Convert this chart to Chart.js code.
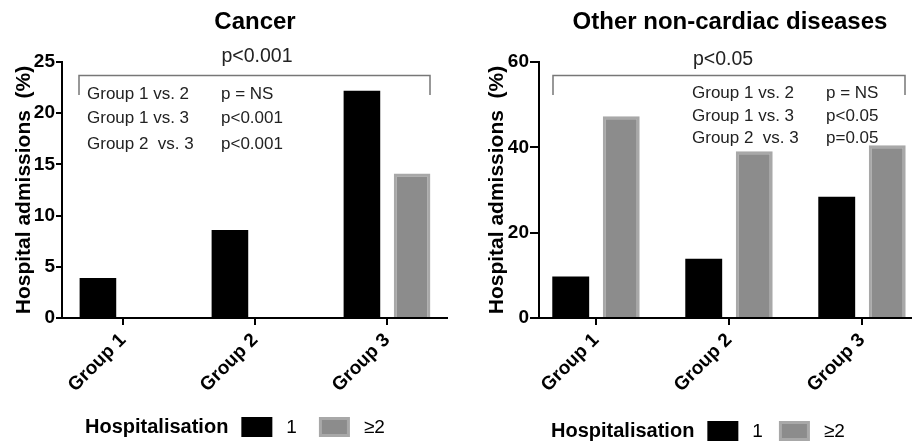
<!DOCTYPE html>
<html>
<head>
<meta charset="utf-8">
<script src="https://cdn.jsdelivr.net/npm/chart.js@4.4.1/dist/chart.umd.min.js"></script>
<style>
  body { margin: 0; width: 912px; height: 443px; overflow: hidden; background: #fff; position: relative; }
  canvas { position: absolute; top: 0; }
  #cancerChart { left: 0; }
  #otherChart { left: 456px; }
</style>
</head>
<body>
<canvas id="cancerChart" width="456" height="443"></canvas>
<canvas id="otherChart" width="470" height="443"></canvas>
<script>
const groups = ["Group 1", "Group 2", "Group 3"]
const seriesNames = ["1", "≥2"]

// Cancer (%)
const cancerOnce = [3.9, 8.6, 22.2]
const cancerRepeat = [0, 0, 14.1]
const cancerTicks = [0, 5, 10, 15, 20, 25]
const cancerComparisons = [
  ["Group 1 vs. 2", "p = NS"],
  ["Group 1 vs. 3", "p<0.001"],
  ["Group 2  vs. 3", "p<0.001"],
]

// Other non-cardiac diseases (%)
const otherOnce = [9.7, 13.9, 28.4]
const otherRepeat = [47.3, 39.1, 40.5]
const otherTicks = [0, 20, 40, 60]
const otherComparisons = [
  ["Group 1 vs. 2", "p = NS"],
  ["Group 1 vs. 3", "p<0.05"],
  ["Group 2  vs. 3", "p=0.05"],
]

const FONT = "'Liberation Sans', Arial, sans-serif"
Chart.defaults.font.family = FONT
Chart.defaults.color = "#000"

// Titles, bracket, pairwise p values and legend
const notesPlugin = {
  id: "notes",
  // the category band starts a little left of the y axis line in the original
  afterLayout(chart, args, o) {
    const x = chart.scales.x
    x._startPixel = o.xSpan[0]
    x._endPixel = o.xSpan[1]
    x._length = o.xSpan[1] - o.xSpan[0]
  },
  afterDraw(chart, args, o) {
    const ctx = chart.ctx
    ctx.save()
    ctx.textBaseline = "middle"

    ctx.fillStyle = "#000"
    ctx.font = `bold 24px ${FONT}`
    ctx.textAlign = "center"
    ctx.fillText(o.title, o.titleX, 22)

    ctx.fillStyle = "#222"
    ctx.font = `19.5px ${FONT}`
    ctx.fillText(o.overall, o.overallX, o.overallY)

    ctx.strokeStyle = "#777"
    ctx.lineWidth = 1.5
    ctx.beginPath()
    ctx.moveTo(o.bracket[0], 95)
    ctx.lineTo(o.bracket[0], 75.5)
    ctx.lineTo(o.bracket[1], 75.5)
    ctx.lineTo(o.bracket[1], 95)
    ctx.stroke()

    ctx.font = `17px ${FONT}`
    ctx.textAlign = "left"
    o.rows.forEach((r, i) => {
      ctx.fillText(r[0], o.rowX[0], o.rowY[i])
      ctx.fillText(r[1], o.rowX[1], o.rowY[i])
    })

    // legend
    let x = o.legendX
    const y = o.legendY
    ctx.fillStyle = "#000"
    ctx.font = `bold 20px ${FONT}`
    ctx.fillText("Hospitalisation", x, y)
    x += ctx.measureText("Hospitalisation").width + 13
    chart.data.datasets.forEach((ds) => {
      const bw = ds.borderWidth || 0
      ctx.fillStyle = bw ? ds.borderColor : ds.backgroundColor
      ctx.fillRect(x, y - 10, 31, 20)
      if (bw) {
        ctx.fillStyle = ds.backgroundColor
        ctx.fillRect(x + bw, y - 10 + bw, 31 - 2 * bw, 20 - 2 * bw)
      }
      x += 31 + 14
      ctx.fillStyle = "#000"
      ctx.font = `19px ${FONT}`
      ctx.fillText(ds.label, x, y + 1)
      x += ctx.measureText(ds.label).width + o.legendGap
    })
    ctx.restore()
  },
}

function makeChart(id, once, repeat, ticks, yTitlePad, tickLen, padRight, yWidth, notes) {
  return new Chart(document.getElementById(id), {
    type: "bar",
    data: {
      labels: groups,
      datasets: [
        {
          label: seriesNames[0],
          data: once,
          backgroundColor: "#000",
          borderWidth: 0,
        },
        {
          label: seriesNames[1],
          data: repeat,
          backgroundColor: "#8c8c8c",
          borderColor: "#a8a8a8",
          borderWidth: 3,
        },
      ],
    },
    options: {
      responsive: false,
      animation: false,
      categoryPercentage: 0.76,
      barPercentage: 0.73,
      layout: { padding: { top: 62, right: padRight, left: 0, bottom: 0 } },
      plugins: {
        legend: { display: false },
        tooltip: { enabled: false },
        notes: notes,
      },
      scales: {
        x: {
          grid: { display: true, drawOnChartArea: false, offset: false, tickLength: 7, color: "#000", lineWidth: 2 },
          border: { display: true, color: "#000", width: 2 },
          ticks: { minRotation: 45, maxRotation: 45, padding: 4, font: { size: 19, weight: "bold" }, color: "#000" },
          afterFit: (s) => { s.height = 443 - 318 },
        },
        y: {
          min: 0,
          max: ticks[ticks.length - 1],
          afterBuildTicks: (s) => { s.ticks = ticks.map((v) => ({ value: v })) },
          grid: { display: true, drawOnChartArea: false, tickLength: tickLen, color: "#000", lineWidth: 2 },
          border: { display: true, color: "#000", width: 2 },
          ticks: { padding: 1, font: { size: 19, weight: "bold" }, color: "#000" },
          title: {
            display: true,
            text: "Hospital admissions  (%)",
            font: { size: 21, weight: "bold" },
            color: "#000",
            padding: { top: yTitlePad, bottom: 0 },
          },
          afterFit: (s) => { s.width = yWidth },
        },
      },
    },
    plugins: [notesPlugin],
  })
}

makeChart("cancerChart", cancerOnce, cancerRepeat, cancerTicks, 11.4, 6, 9, 62, {
  xSpan: [57, 453],
  title: "Cancer",
  titleX: 255,
  overall: "p<0.001",
  overallX: 257,
  overallY: 57,
  bracket: [79, 430],
  rows: cancerComparisons,
  rowX: [87, 221],
  rowY: [94, 118.5, 144],
  legendX: 85,
  legendY: 427,
  legendGap: 22,
})

makeChart("otherChart", otherOnce, otherRepeat, otherTicks, 29, 9, 1, 83, {
  xSpan: [73.5, 472.5],
  title: "Other non-cardiac diseases",
  titleX: 274,
  overall: "p<0.05",
  overallX: 267,
  overallY: 60,
  bracket: [97, 449],
  rows: otherComparisons,
  rowX: [236, 370],
  rowY: [93, 116.5, 138.5],
  legendX: 95,
  legendY: 431,
  legendGap: 16,
})
</script>
</body>
</html>
